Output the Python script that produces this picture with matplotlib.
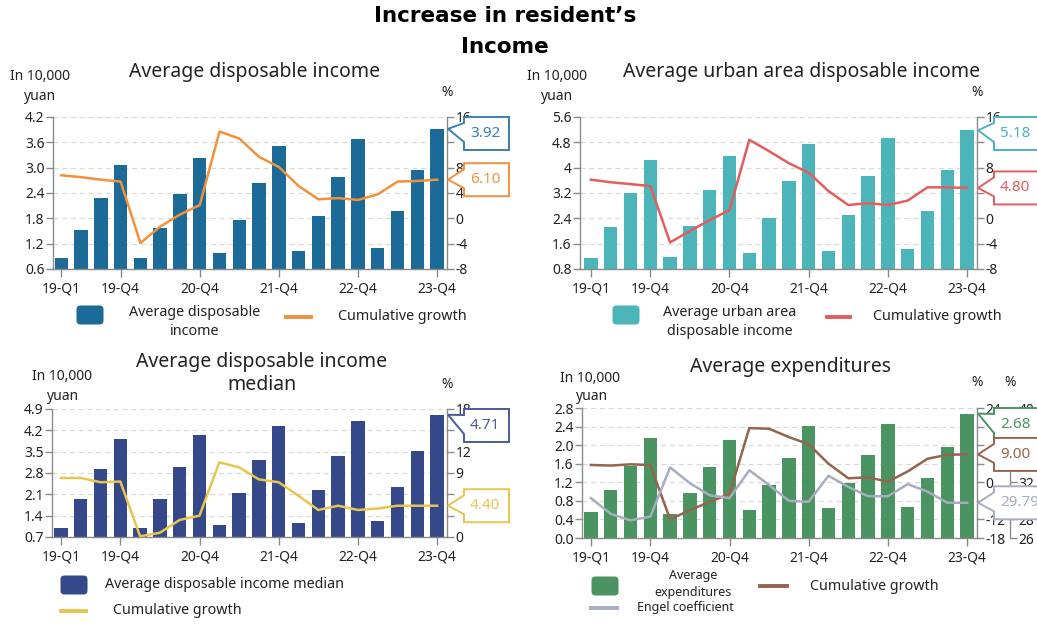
import matplotlib
matplotlib.use("Agg")
import matplotlib.pyplot as plt
from matplotlib.patches import Polygon, FancyBboxPatch
from matplotlib.lines import Line2D
from matplotlib.transforms import IdentityTransform

W, H = 1037, 625

# quarterly cumulative values, 2019-Q1 .. 2023-Q4
tick_pos = [0, 3, 7, 11, 15, 19]
tick_labels = ["19-Q1", "19-Q4", "20-Q4", "21-Q4", "22-Q4", "23-Q4"]

income = [0.85, 1.53, 2.29, 3.07, 0.86, 1.57, 2.38, 3.22, 0.97, 1.76,
          2.63, 3.51, 1.03, 1.85, 2.77, 3.69, 1.09, 1.97, 2.94, 3.92]
income_growth = [6.8, 6.5, 6.1, 5.8, -3.9, -1.3, 0.6, 2.1, 13.7, 12.6,
                 9.7, 8.1, 5.1, 3.0, 3.2, 2.9, 3.8, 5.8, 5.9, 6.1]

urban = [1.16, 2.13, 3.19, 4.24, 1.17, 2.17, 3.28, 4.38, 1.31, 2.41,
         3.59, 4.74, 1.38, 2.50, 3.75, 4.93, 1.44, 2.64, 3.94, 5.18]
urban_growth = [6.1, 5.7, 5.4, 5.1, -3.8, -2.0, -0.3, 1.3, 12.4, 10.6,
                8.7, 7.2, 4.3, 2.1, 2.4, 2.1, 2.8, 4.9, 4.9, 4.8]

median = [0.99, 1.94, 2.94, 3.92, 0.99, 1.95, 3.00, 4.04, 1.11, 2.15,
          3.24, 4.35, 1.17, 2.23, 3.37, 4.51, 1.22, 2.33, 3.52, 4.71]
median_growth = [8.3, 8.3, 7.7, 7.8, 0.1, 0.6, 2.4, 3.0, 10.5, 9.8,
                 8.1, 7.7, 5.8, 3.8, 4.4, 3.8, 4.0, 4.4, 4.4, 4.4]

expend = [0.55, 1.03, 1.56, 2.16, 0.51, 0.97, 1.52, 2.12, 0.61, 1.15,
          1.73, 2.41, 0.64, 1.18, 1.79, 2.45, 0.67, 1.30, 1.96, 2.68]
expend_growth = [5.6, 5.4, 5.8, 5.6, -12.0, -9.0, -6.3, -3.8, 17.5, 17.3,
                 14.6, 12.3, 6.0, 1.3, 1.6, 0.2, 3.5, 7.6, 8.9, 9.0]
engel = [30.3, 28.6, 27.9, 28.3, 33.6, 31.9, 30.6, 30.3, 33.3, 31.7,
         30.0, 29.9, 32.7, 31.5, 30.5, 30.5, 31.8, 31.0, 29.8, 29.79]

plt.rcParams['font.family'] = ['Noto Sans', 'DejaVu Sans']
plt.rcParams['axes.linewidth'] = 1.0

AXIS_GREY = "#8a8a8a"
TEXT = "#222222"
LEG = 10.3

fig = plt.figure(figsize=(W / 100, H / 100), dpi=100)
fig.patch.set_facecolor("white")


def add_axes(l, t, r, b):
    return fig.add_axes([l / W, 1 - b / H, (r - l) / W, (b - t) / H])


def ftext(x, y, s, **kw):
    kw.setdefault("color", TEXT)
    kw.setdefault("va", "center")
    return fig.text(x / W, 1 - y / H, s, **kw)


def style(ax, side):
    for s in ax.spines.values():
        s.set_color(AXIS_GREY)
    ax.spines["top"].set_visible(False)
    if side == "left":
        ax.spines["right"].set_visible(False)
    ax.tick_params(axis="y", colors=AXIS_GREY, labelcolor=TEXT, length=5,
                   width=1, labelsize=10, pad=1)
    ax.tick_params(axis="x", colors=AXIS_GREY, labelcolor=TEXT, length=6,
                   width=1, labelsize=10, pad=3)


def bar_panel(box, values, color, ylim, step, fmt, xmin):
    ax = add_axes(*box)
    x = range(len(values))
    ax.bar(x, values, width=0.68, color=color, zorder=2)
    ax.set_xlim(xmin, 19.5)
    ax.set_ylim(*ylim)
    n = int(round((ylim[1] - ylim[0]) / step))
    ticks = [ylim[0] + i * step for i in range(n + 1)]
    ax.set_yticks(ticks)
    ax.set_yticklabels([fmt(t) for t in ticks])
    ax.set_xticks(tick_pos)
    ax.set_xticklabels(tick_labels)
    ax.grid(axis="y", color="#d9d9d9", linestyle=(0, (4, 3)), linewidth=0.9)
    ax.set_axisbelow(True)
    style(ax, "left")
    return ax


def line_axis(ax, values, color, ylim, step, offset=0):
    ax2 = ax.twinx()
    ax2.plot(range(len(values)), values, color=color, linewidth=1.8, zorder=3)
    ax2.set_ylim(*ylim)
    n = int(round((ylim[1] - ylim[0]) / step))
    ax2.set_yticks([ylim[0] + i * step for i in range(n + 1)])
    ax2.set_yticklabels([f"{ylim[0] + i * step:g}" for i in range(n + 1)])
    style(ax2, "right")
    ax2.spines["left"].set_visible(False)
    ax2.spines["bottom"].set_visible(False)
    if offset:
        # offset given in pixels, spine position wants points
        ax2.spines["right"].set_position(("outward", offset * 72 / 100))
    return ax2


def callout(ax, host, value, label, color, width=45):
    # value tag attached to the right spine, pointing at the last point
    tip_y = ax.transData.transform((19, value))[1]
    spine_x = host.bbox.x1 + 1
    h = 33
    top = min(tip_y + h / 2, host.bbox.y1)
    bot = top - h
    x0, x1 = spine_x + 16, spine_x + 16 + width
    verts = [(x0, top), (x1, top), (x1, bot), (x0, bot), (x0, bot + 8),
             (spine_x, tip_y), (x0, top - 6)]
    fig.add_artist(Polygon(verts, closed=True, facecolor="white",
                           edgecolor=color, linewidth=1.4,
                           transform=IdentityTransform(), zorder=5))
    fig.text((x0 + 6) / W, (top + bot) / 2 / H, label, color=color,
             fontsize=11, ha="left", va="center", zorder=6)
    return bot, top


def hide_covered(axes, spans):
    # right-hand tick labels sitting under a white value tag are not seen
    for a in axes:
        for t, lab in zip(a.get_yticks(), a.get_yticklabels()):
            y = a.transData.transform((0, t))[1]
            if any(b + 5 < y < tp - 5 for b, tp in spans):
                lab.set_visible(False)


def legend_patch(cx, cy, color):
    fig.add_artist(FancyBboxPatch((cx - 11, H - cy - 7), 22, 14,
                                  boxstyle="round,pad=2.5,rounding_size=4",
                                  facecolor=color, edgecolor="none",
                                  transform=IdentityTransform()))


def legend_line(x0, x1, y, color):
    fig.add_artist(Line2D([x0, x1], [H - y, H - y], color=color,
                          linewidth=2.8, transform=IdentityTransform()))


c_income, c_income_g = "#1b6a97", "#f2913c"
c_urban, c_urban_g = "#4bb5ba", "#e25d5d"
c_median, c_median_g = "#34488a", "#e6c64f"
c_exp, c_exp_g, c_engel = "#4a9462", "#94644f", "#a6adbf"

# title
ftext(505, 16, "Increase in resident’s", fontsize=15.5, fontweight="bold",
      ha="center", color="black", family="DejaVu Sans")
ftext(505, 47, "Income", fontsize=15.5, fontweight="bold", ha="center",
      color="black", family="DejaVu Sans")

# top left: average disposable income
ax1 = bar_panel((53, 117, 447, 269), income, c_income, (0.6, 4.2), 0.6,
                lambda v: f"{v:.1f}", -0.42)
ax1b = line_axis(ax1, income_growth, c_income_g, (-8, 16), 4)
ftext(255, 72, "Average disposable income", fontsize=14, ha="center")
ftext(10, 77, "In 10,000", fontsize=10)
ftext(23, 96, "yuan", fontsize=10)
ftext(447, 93, "%", fontsize=10, ha="center")
spans = [callout(ax1, ax1, income[-1], "3.92", "#3d7fb0"),
         callout(ax1b, ax1, income_growth[-1], "6.10", c_income_g)]
hide_covered([ax1b], spans)
legend_patch(90, 315, c_income)
ftext(195, 322, "Average disposable\nincome", fontsize=LEG, ha="center",
      linespacing=1.3)
legend_line(286, 311, 317, c_income_g)
ftext(338, 317, "Cumulative growth", fontsize=LEG)

# top right: urban disposable income
ax2 = bar_panel((580, 117, 977, 269), urban, c_urban, (0.8, 5.6), 0.8,
                lambda v: f"{v:g}", -0.55)
ax2b = line_axis(ax2, urban_growth, c_urban_g, (-8, 16), 4)
ftext(802, 72, "Average urban area disposable income", fontsize=14,
      ha="center")
ftext(527, 77, "In 10,000", fontsize=10)
ftext(540, 96, "yuan", fontsize=10)
ftext(977, 93, "%", fontsize=10, ha="center")
spans = [callout(ax2, ax2, urban[-1], "5.18", c_urban),
         callout(ax2b, ax2, urban_growth[-1], "4.80", c_urban_g)]
hide_covered([ax2b], spans)
legend_patch(626, 315, c_urban)
ftext(730, 322, "Average urban area\ndisposable income", fontsize=LEG,
      ha="center", linespacing=1.3)
legend_line(827, 850, 317, c_urban_g)
ftext(873, 317, "Cumulative growth", fontsize=LEG)

# bottom left: median
ax3 = bar_panel((52, 409, 447, 537), median, c_median, (0.7, 4.9), 0.7,
                lambda v: f"{v:.1f}", -0.45)
ax3b = line_axis(ax3, median_growth, c_median_g, (0, 18), 3)
ftext(262, 373, "Average disposable income\nmedian", fontsize=14,
      ha="center", linespacing=1.2)
ftext(32, 376, "In 10,000", fontsize=10)
ftext(46, 396, "yuan", fontsize=10)
ftext(447, 385, "%", fontsize=10, ha="center")
spans = [callout(ax3, ax3, median[-1], "4.71", "#4a5a9c"),
         callout(ax3b, ax3, median_growth[-1], "4.40", c_median_g)]
hide_covered([ax3b], spans)
legend_patch(74, 585, c_median)
ftext(105, 585, "Average disposable income median", fontsize=LEG)
legend_line(61, 86, 611, c_median_g)
ftext(113, 611, "Cumulative growth", fontsize=LEG)

# bottom right: expenditures
ax4 = bar_panel((582, 408, 977, 538), expend, c_exp, (0.0, 2.8), 0.4,
                lambda v: f"{v:.1f}", -0.45)
ax4b = line_axis(ax4, expend_growth, c_exp_g, (-18, 24), 6)
ax4c = line_axis(ax4, engel, c_engel, (26, 40), 2, offset=33)
ftext(790, 367, "Average expenditures", fontsize=14, ha="center")
ftext(560, 378, "In 10,000", fontsize=10)
ftext(575, 396, "yuan", fontsize=10)
ftext(977, 383, "%", fontsize=10, ha="center")
ftext(1010, 383, "%", fontsize=10, ha="center")
spans = [callout(ax4, ax4, expend[-1], "2.68", c_exp, width=60),
         callout(ax4b, ax4, expend_growth[-1], "9.00", c_exp_g, width=60),
         callout(ax4c, ax4, engel[-1], "29.79", c_engel, width=60)]
hide_covered([ax4b, ax4c], spans)
legend_patch(605, 586, c_exp)
ftext(693, 584, "Average\nexpenditures", fontsize=9, ha="center",
      linespacing=1.35)
legend_line(760, 787, 586, c_exp_g)
ftext(810, 586, "Cumulative growth", fontsize=LEG)
legend_line(591, 617, 608, c_engel)
ftext(637, 608, "Engel coefficient", fontsize=9)

fig.savefig("out.png", dpi=100)
